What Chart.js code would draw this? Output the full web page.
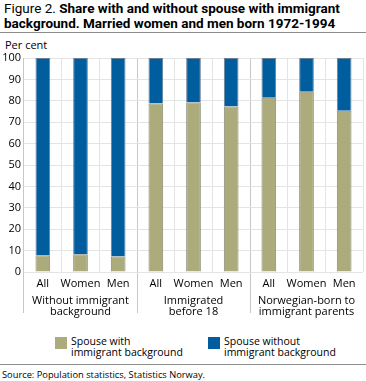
<!DOCTYPE html>
<html>
<head>
<meta charset="utf-8">
<script src="https://cdn.jsdelivr.net/npm/chart.js@4.4.1/dist/chart.umd.min.js"></script>
<style>
  html, body { margin: 0; padding: 0; background: #fff; }
  body { width: 366px; height: 381px; position: relative; overflow: hidden; font-family: "Open Sans", sans-serif; color: #000; }
  #title { position: absolute; left: 4px; top: 1px; font-family: Roboto, sans-serif; font-size: 13.5px; line-height: 15px; font-weight: bold; white-space: nowrap; }
  #title span { font-weight: normal; }
  .rule { position: absolute; left: 0; width: 366px; height: 1px; background: #8c8c8c; }
  #unit { position: absolute; left: 5px; top: 37px; font-size: 11px; }
  #wrap { position: absolute; left: 0; top: 0; width: 366px; height: 325px; }
  .leg { position: absolute; top: 336px; font-size: 10.5px; line-height: 11px; }
  .sw { position: absolute; width: 12px; height: 12px; top: 1px; }
  .lt { position: absolute; left: 16px; top: 0; white-space: nowrap; }
  #source { position: absolute; left: 2px; top: 368px; font-size: 9.3px; }
</style>
</head>
<body>
<div id="title"><span>Figure 2.</span> Share with and without spouse with immigrant<br>background. Married women and men born 1972-1994</div>
<div class="rule" style="top:32px"></div>
<div id="unit">Per cent</div>
<div id="wrap"><canvas id="c" width="366" height="325"></canvas></div>
<div class="leg" style="left:55px"><div class="sw" style="background:#abab7b"></div><div class="lt">Spouse with<br>immigrant background</div></div>
<div class="leg" style="left:208px"><div class="sw" style="background:#005e9f"></div><div class="lt">Spouse without<br>immigrant background</div></div>
<div class="rule" style="top:364px"></div>
<div id="source">Source: Population statistics, Statistics Norway.</div>
<script>
const categories = ["All", "Women", "Men", "All", "Women", "Men", "All", "Women", "Men"];
const groups = [["Without immigrant", "background"], ["Immigrated", "before 18"], ["Norwegian-born to", "immigrant parents"]];
const withImmigrant = [7.8, 8.3, 7.2, 78.7, 79.2, 77.3, 81.4, 84.2, 75.4];
const withoutImmigrant = withImmigrant.map(v => +(100 - v).toFixed(1));
const yTicks = [0, 10, 20, 30, 40, 50, 60, 70, 80, 90, 100];
const seriesNames = ["Spouse with immigrant background", "Spouse without immigrant background"];

const font = { family: "Open Sans", size: 11 };
new Chart(document.getElementById("c"), {
  type: "bar",
  data: {
    labels: categories,
    datasets: [
      { label: seriesNames[0], data: withImmigrant, backgroundColor: "#abab7b", borderColor: "#8a8a78", borderWidth: 1, barPercentage: 0.39, categoryPercentage: 1 },
      { label: seriesNames[1], data: withoutImmigrant, backgroundColor: "#005e9f", borderColor: "#6b7f96", borderWidth: 1, barPercentage: 0.39, categoryPercentage: 1 }
    ]
  },
  options: {
    responsive: false,
    animation: false,
    devicePixelRatio: 1,
    layout: { padding: { top: 58, right: 3, left: 0, bottom: 3 } },
    plugins: { legend: { display: false }, tooltip: { enabled: false } },
    scales: {
      x: {
        stacked: true,
        offset: true,
        grid: {
          offset: true,
          color: ctx => (ctx.index % 3 === 0 ? "#c8c8c8" : "#e4e4e4"),
          tickColor: ctx => (ctx.index % 3 === 0 ? "#c8c8c8" : "rgba(0,0,0,0)"),
          tickLength: 41,
          lineWidth: 1
        },
        border: { display: false },
        ticks: { font: font, color: "#000", padding: -36, maxRotation: 0, autoSkip: false },
        afterFit: s => { s.height = 20; }
      },
      x2: {
        type: "category",
        position: "bottom",
        labels: groups,
        offset: true,
        grid: { display: false },
        border: { display: false },
        ticks: { font: Object.assign({ lineHeight: 1.0 }, font), color: "#000", padding: -5, maxRotation: 0, autoSkip: false },
        afterFit: s => { s.height = 30; }
      },
      y: {
        stacked: true,
        min: 0,
        max: 100,
        afterBuildTicks: s => { s.ticks = yTicks.map(v => ({ value: v })); },
        grid: { color: "#e4e4e4", drawTicks: false, lineWidth: 1 },
        border: { display: false },
        ticks: { font: font, color: "#000", padding: 3 },
        afterFit: s => { s.width = 24; }
      }
    }
  }
});
</script>
</body>
</html>
